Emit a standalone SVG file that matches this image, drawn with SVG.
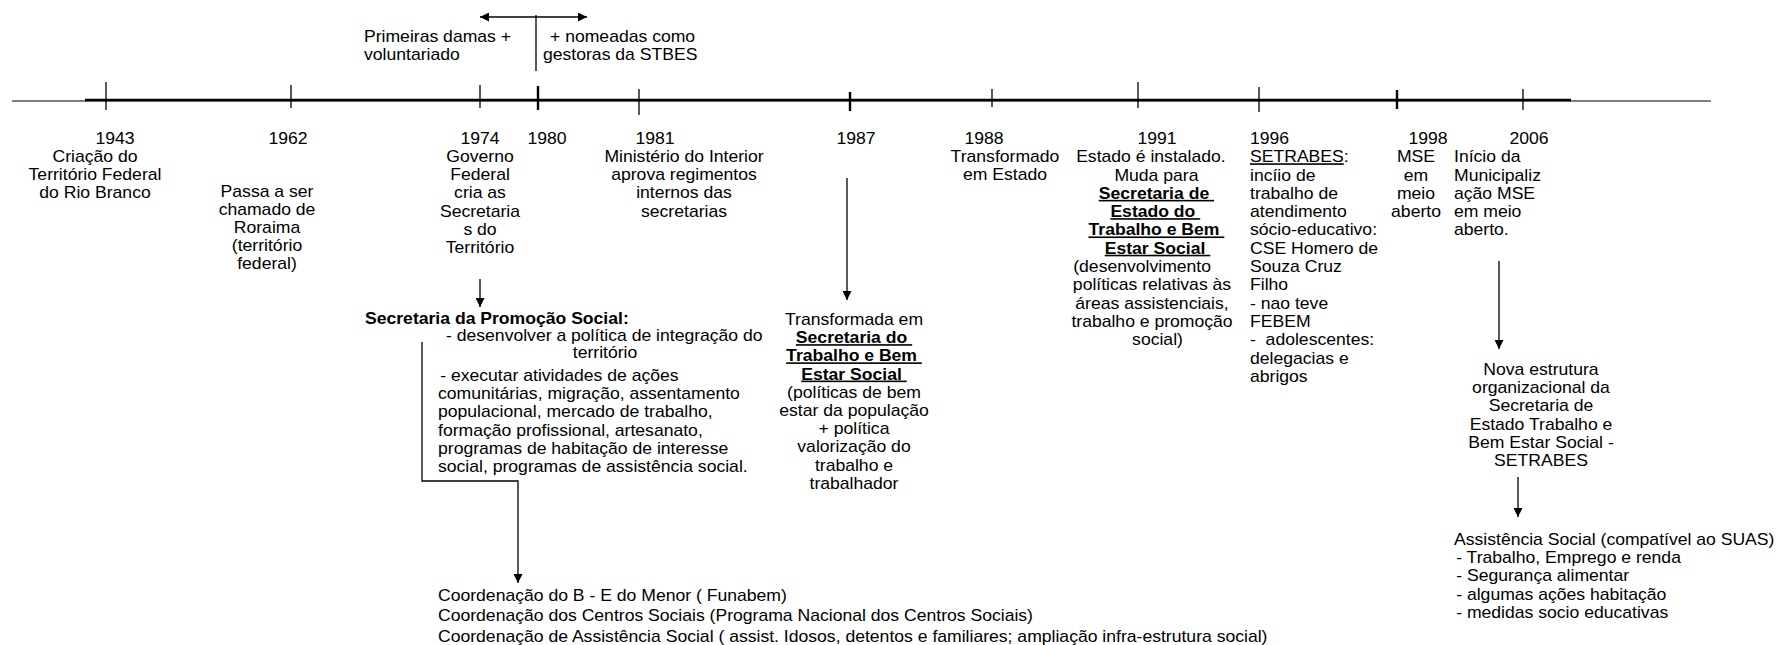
<svg xmlns="http://www.w3.org/2000/svg" width="1783" height="645" viewBox="0 0 1783 645">
  <style>
    text { font-family: "Liberation Sans", Arial, sans-serif; font-size: 16px; fill: #000; }
    .c { text-anchor: middle; }
    .b { font-weight: bold; }
    .u { text-decoration: underline; }
    .ln { stroke: #000; fill: none; stroke-width: 1.3; }
    .tk { stroke: #000; stroke-width: 1.3; }
    .tk2 { stroke: #000; stroke-width: 2.4; }
    .ar { stroke: #000; fill: none; stroke-width: 1.3; marker-end: url(#arr); }
  </style>
  <defs>
    <marker id="arr" viewBox="0 0 10 10" refX="10" refY="5" markerWidth="10" markerHeight="9" markerUnits="userSpaceOnUse" orient="auto-start-reverse">
      <path d="M0,0 L10,5 L0,10 z" fill="#000"/>
    </marker>
  </defs>
  <rect width="1783" height="645" fill="#fff"/>

  <!-- timeline axis with year ticks -->
  <g id="timeline">
    <line x1="12" y1="101" x2="1711" y2="101" stroke="#000" stroke-width="1.2"/>
    <line x1="85" y1="100" x2="1571" y2="100" stroke="#000" stroke-width="2.4"/>
    <line class="tk" x1="106" y1="82" x2="106" y2="110"/>
    <line class="tk" x1="291" y1="85" x2="291" y2="108"/>
    <line class="tk" x1="480" y1="85" x2="480" y2="108"/>
    <line class="tk2" x1="538" y1="86" x2="538" y2="110"/>
    <line class="tk" x1="639" y1="89" x2="639" y2="115"/>
    <line class="tk2" x1="850" y1="92" x2="850" y2="111"/>
    <line class="tk" x1="992" y1="89" x2="992" y2="107"/>
    <line class="tk" x1="1138" y1="82" x2="1138" y2="108"/>
    <line class="tk" x1="1259" y1="87" x2="1259" y2="112"/>
    <line class="tk2" x1="1397" y1="90" x2="1397" y2="109"/>
    <line class="tk" x1="1523" y1="89" x2="1523" y2="110"/>
  </g>

  <!-- arrows and connectors -->
  <g id="connectors">
    <line class="ln" x1="480" y1="17" x2="587" y2="17" marker-start="url(#arr)" marker-end="url(#arr)"/>
    <line class="ln" x1="536" y1="15" x2="536" y2="71"/>
    <line class="ar" x1="480" y1="279" x2="480" y2="307"/>
    <line class="ar" x1="847" y1="178" x2="847" y2="300"/>
    <path class="ar" d="M422,342 V481 H518 V583"/>
    <line class="ar" x1="1499" y1="261" x2="1499" y2="349"/>
    <line class="ar" x1="1518" y1="477" x2="1518" y2="517"/>
  </g>

  <g id="note-damas">
    <text transform="translate(364 42) scale(1.1 1)"><tspan x="0">Primeiras damas +</tspan><tspan x="0" dy="18">voluntariado</tspan></text>
  </g>
  <g id="note-gestoras">
    <text transform="translate(543 42) scale(1.1 1)"><tspan x="6.4">+ nomeadas como</tspan><tspan x="0" dy="18">gestoras da STBES</tspan></text>
  </g>

  <g id="y1943">
    <text class="c" transform="translate(115 144) scale(1.1 1)">1943</text>
    <text class="c" transform="translate(95 162) scale(1.1 1)"><tspan x="0">Criação do</tspan><tspan x="0" dy="18">Território Federal</tspan><tspan x="0" dy="18">do Rio Branco</tspan></text>
  </g>

  <g id="y1962">
    <text class="c" transform="translate(288 144) scale(1.1 1)">1962</text>
    <text class="c" transform="translate(267 197) scale(1.1 1)"><tspan x="0">Passa a ser</tspan><tspan x="0" dy="18">chamado de</tspan><tspan x="0" dy="18">Roraima</tspan><tspan x="0" dy="18">(território</tspan><tspan x="0" dy="18">federal)</tspan></text>
  </g>

  <g id="y1974">
    <text class="c" transform="translate(480 144) scale(1.1 1)">1974</text>
    <text class="c" transform="translate(480 162) scale(1.1 1)"><tspan x="0">Governo</tspan><tspan x="0" dy="18.2">Federal</tspan><tspan x="0" dy="18.2">cria as</tspan><tspan x="0" dy="18.2">Secretaria</tspan><tspan x="0" dy="18.2">s do</tspan><tspan x="0" dy="18.2">Território</tspan></text>
  </g>

  <g id="y1980">
    <text class="c" transform="translate(547 144) scale(1.1 1)">1980</text>
  </g>

  <g id="y1981">
    <text class="c" transform="translate(655 144) scale(1.1 1)">1981</text>
    <text class="c" transform="translate(684 162) scale(1.1 1)"><tspan x="0">Ministério do Interior</tspan><tspan x="0" dy="18.2">aprova regimentos</tspan><tspan x="0" dy="18.2">internos das</tspan><tspan x="0" dy="18.2">secretarias</tspan></text>
  </g>

  <g id="y1987">
    <text class="c" transform="translate(856 144) scale(1.1 1)">1987</text>
  </g>

  <g id="stbes">
    <text class="c" transform="translate(854 325) scale(1.1 1)"><tspan x="0">Transformada em</tspan><tspan x="0" dy="18.2" class="b u">Secretaria do&#160;</tspan><tspan x="0" dy="18.2" class="b u">Trabalho e Bem&#160;</tspan><tspan x="0" dy="18.2" class="b u">Estar Social&#160;</tspan><tspan x="0" dy="18.2">(políticas de bem</tspan><tspan x="0" dy="18.2">estar da população</tspan><tspan x="0" dy="18.2">+ política</tspan><tspan x="0" dy="18.2">valorização do</tspan><tspan x="0" dy="18.2">trabalho e</tspan><tspan x="0" dy="18.2">trabalhador</tspan></text>
  </g>

  <g id="y1988">
    <text class="c" transform="translate(984 144) scale(1.1 1)">1988</text>
    <text class="c" transform="translate(1005 162) scale(1.1 1)"><tspan x="0">Transformado</tspan><tspan x="0" dy="18.2">em Estado</tspan></text>
  </g>

  <g id="y1991">
    <text class="c" transform="translate(1157 144) scale(1.1 1)">1991</text>
    <text class="c" transform="translate(1152 162.3) scale(1.1 1)"><tspan x="-1">Estado é instalado.</tspan><tspan x="4" dy="18.3">Muda para</tspan><tspan x="4" dy="18.3" class="b u">Secretaria de&#160;</tspan><tspan x="3" dy="18.3" class="b u">Estado do&#160;</tspan><tspan x="4" dy="18.3" class="b u">Trabalho e Bem&#160;</tspan><tspan x="5" dy="18.3" class="b u">Estar Social&#160;</tspan><tspan x="-9" dy="18.3">(desenvolvimento</tspan><tspan x="0" dy="18.3">políticas relativas às</tspan><tspan x="0" dy="18.3">áreas assistenciais,</tspan><tspan x="0" dy="18.3">trabalho e promoção</tspan><tspan x="5" dy="18.3">social)</tspan></text>
  </g>

  <g id="y1996">
    <text transform="translate(1250 144) scale(1.1 1)">1996</text>
    <text transform="translate(1250 162.3) scale(1.1 1)"><tspan x="0"><tspan class="u">SETRABES</tspan>:</tspan><tspan x="0" dy="18.3">incíio de</tspan><tspan x="0" dy="18.3">trabalho de</tspan><tspan x="0" dy="18.3">atendimento</tspan><tspan x="0" dy="18.3">sócio-educativo:</tspan><tspan x="0" dy="18.3">CSE Homero de</tspan><tspan x="0" dy="18.3">Souza Cruz</tspan><tspan x="0" dy="18.3">Filho</tspan><tspan x="0" dy="18.3">- nao teve</tspan><tspan x="0" dy="18.3">FEBEM</tspan><tspan x="0" dy="18.3">-&#160; adolescentes:</tspan><tspan x="0" dy="18.3">delegacias e</tspan><tspan x="0" dy="18.3">abrigos</tspan></text>
  </g>

  <g id="y1998">
    <text class="c" transform="translate(1428 144) scale(1.1 1)">1998</text>
    <text class="c" transform="translate(1416 162.3) scale(1.1 1)"><tspan x="0">MSE</tspan><tspan x="0" dy="18.3">em</tspan><tspan x="0" dy="18.3">meio</tspan><tspan x="0" dy="18.3">aberto</tspan></text>
  </g>

  <g id="y2006">
    <text class="c" transform="translate(1529 144) scale(1.1 1)">2006</text>
    <text transform="translate(1454 162.3) scale(1.1 1)"><tspan x="0">Início da</tspan><tspan x="0" dy="18.3">Municipaliz</tspan><tspan x="0" dy="18.3">ação MSE</tspan><tspan x="0" dy="18.3">em meio</tspan><tspan x="0" dy="18.3">aberto.</tspan></text>
  </g>

  <g id="promocao-social">
    <text class="b" transform="translate(365 324) scale(1.1 1)">Secretaria da Promoção Social:</text>
    <text transform="translate(446 341) scale(1.1 1)">- desenvolver a política de integração do</text>
    <text class="c" transform="translate(605 358) scale(1.1 1)">território</text>
    <text transform="translate(438 381) scale(1.1 1)"><tspan x="2">- executar atividades de ações</tspan><tspan x="0" dy="18.2">comunitárias, migração, assentamento</tspan><tspan x="0" dy="18.2">populacional, mercado de trabalho,</tspan><tspan x="0" dy="18.2">formação profissional, artesanato,</tspan><tspan x="0" dy="18.2">programas de habitação de interesse</tspan><tspan x="0" dy="18.2">social, programas de assistência social.</tspan></text>
  </g>

  <g id="coordenacoes">
    <text transform="translate(438 601) scale(1.1 1)"><tspan x="0">Coordenação do B - E do Menor ( Funabem)</tspan><tspan x="0" dy="20.5">Coordenação dos Centros Sociais (Programa Nacional dos Centros Sociais)</tspan><tspan x="0" dy="20.5">Coordenação de Assistência Social ( assist. Idosos, detentos e familiares; ampliação infra-estrutura social)</tspan></text>
  </g>

  <g id="nova-estrutura">
    <text class="c" transform="translate(1541 375) scale(1.1 1)"><tspan x="0">Nova estrutura</tspan><tspan x="0" dy="18.2">organizacional da</tspan><tspan x="0" dy="18.2">Secretaria de</tspan><tspan x="0" dy="18.2">Estado Trabalho e</tspan><tspan x="0" dy="18.2">Bem Estar Social -</tspan><tspan x="0" dy="18.2">SETRABES</tspan></text>
  </g>

  <g id="assistencia-social">
    <text transform="translate(1454 545) scale(1.1 1)"><tspan x="0">Assistência Social (compatível ao SUAS)</tspan><tspan x="2" dy="18.2">- Trabalho, Emprego e renda</tspan><tspan x="2" dy="18.2">- Segurança alimentar</tspan><tspan x="2" dy="18.2">- algumas ações habitação</tspan><tspan x="2" dy="18.2">- medidas socio educativas</tspan></text>
  </g>
</svg>
